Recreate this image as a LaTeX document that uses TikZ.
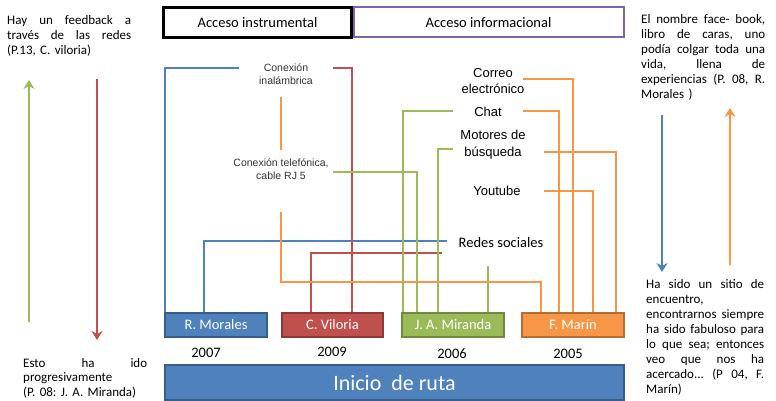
\documentclass[tikz,border=0pt]{standalone}
\usepackage{fontspec}
\setmainfont{Carlito}
\newfontfamily\arialf{Liberation Sans}
\usetikzlibrary{arrows.meta}
\definecolor{cblue}{HTML}{4F81BD}
\definecolor{cbluedk}{HTML}{385D8A}
\definecolor{cred}{HTML}{C0504D}
\definecolor{creddk}{HTML}{8C3836}
\definecolor{cgreen}{HTML}{9BBB59}
\definecolor{cgreendk}{HTML}{71893F}
\definecolor{corange}{HTML}{F79646}
\definecolor{corangedk}{HTML}{B66D31}
\definecolor{cpurple}{HTML}{8064A2}
\definecolor{cgraytxt}{HTML}{333333}
\newcommand{\jline}[2][124pt]{\leavevmode{\spaceskip=0.226em plus 1fil\relax\hbox to #1{#2}}}
\begin{document}
\begin{tikzpicture}[x=1pt,y=-1pt,
  conn/.style={line width=2.2pt},
  bigarrow/.style={line width=2.6pt,-{Stealth[length=9pt,width=11pt,inset=3pt]}},
  person/.style={draw, line width=1.6pt, minimum width=101pt, minimum height=24pt, inner sep=0pt, text=white, font=\fontsize{14.5}{16}\selectfont},
  year/.style={inner sep=0pt, font=\fontsize{14.5}{16}\selectfont},
  accbox/.style={draw, minimum height=30pt, inner sep=0pt, font=\fontsize{14.5}{16}\selectfont},
  para/.style={inner sep=0pt, anchor=base west, align=left},
  smalllab/.style={inner sep=0pt, align=center, text=cgraytxt, font=\arialf\fontsize{10.5}{13}\selectfont},
  medlab/.style={inner sep=0pt, align=center, font=\arialf\fontsize{13}{16}\selectfont}
]
\useasboundingbox (0,0) rectangle (776,401);

% top boxes
\node[accbox, line width=2.6pt, draw=black, minimum width=188pt] (ains) at (257.5,22.5) {Acceso instrumental};
\node[accbox, line width=2pt, draw=cpurple, minimum width=270pt] (ainf) at (488.5,22.5) {Acceso informacional};

% person boxes
\node[person, draw=cbluedk, fill=cblue, minimum width=102pt] (rm) at (216,325) {R. Morales};
\node[person, draw=creddk, fill=cred] (cv) at (332.5,325) {C. Viloria};
\node[person, draw=cgreendk, fill=cgreen, minimum width=102pt] (jm) at (453,325) {J. A. Miranda};
\node[person, draw=corangedk, fill=corange, minimum width=102pt] (fm) at (573,325) {F. Marín};

% years
\node[year] (y1) at (206,352.5) {2007};
\node[year] (y2) at (332,351.5) {2009};
\node[year] (y3) at (452,353.5) {2006};
\node[year] (y4) at (568,353.5) {2005};

% inicio de ruta
\node[draw=cbluedk, fill=cblue, line width=1.6pt, minimum width=459pt, minimum height=35pt, inner sep=0pt, text=white, font=\fontsize{22}{24}\selectfont] (ir) at (394.5,382.5) {Inicio\ \ de ruta};

% labels
\node[smalllab] (ci) at (286,74.5) {Conexión\\inalámbrica};
\node[smalllab] (ct) at (281,169.5) {Conexión telefónica,\\cable RJ 5};
\node[medlab] (ce) at (493,81) {Correo\\electrónico};
\node[medlab] (ch) at (488,112) {Chat};
\node[medlab, font=\arialf\fontsize{13}{17}\selectfont] (mb) at (493,144.5) {Motores de\\búsqueda};
\node[medlab] (yt) at (497,191) {Youtube};
\node[inner sep=0pt, font=\fontsize{14.5}{16}\selectfont] (rs) at (501,243) {Redes sociales};

% connector coordinates
\coordinate (b1s) at (239,68);  \coordinate (b1k) at (165,68);
\coordinate (b2s) at (447,241); \coordinate (b2k) at (204,241);
\coordinate (r1s) at (333,68);  \coordinate (r1k) at (352,68);
\coordinate (r2s) at (442,253); \coordinate (r2k) at (311,253);
\coordinate (g1s) at (453,111); \coordinate (g1k) at (403,111);
\coordinate (g2s) at (333,172); \coordinate (g2k) at (417,172);
\coordinate (g3s) at (453,149); \coordinate (g3k) at (438,149);
\coordinate (g4s) at (488,266);
\coordinate (o1s) at (523,79);  \coordinate (o1k) at (573,79);
\coordinate (o2s) at (523,111); \coordinate (o2k) at (559,111);
\coordinate (o3s) at (544,152); \coordinate (o3k) at (616,152);
\coordinate (o4s) at (544,191); \coordinate (o4k) at (593,191);
\coordinate (o5a) at (281,97);  \coordinate (o5b) at (281,150);
\coordinate (o6s) at (281,212); \coordinate (o6k) at (281,282); \coordinate (o6m) at (541,282);

% blue
\draw[conn,cblue] (b1s) -- (b1k) -- (b1k |- rm.north);
\draw[conn,cblue] (b2s) -- (b2k) -- (b2k |- rm.north);
% red
\draw[conn,cred] (r1s) -- (r1k) -- (r1k |- cv.north);
\draw[conn,cred] (r2s) -- (r2k) -- (r2k |- cv.north);
% green
\draw[conn,cgreen] (g1s) -- (g1k) -- (g1k |- jm.north);
\draw[conn,cgreen] (g2s) -- (g2k) -- (g2k |- jm.north);
\draw[conn,cgreen] (g3s) -- (g3k) -- (g3k |- jm.north);
\draw[conn,cgreen] (g4s) -- (g4s |- jm.north);
% orange
\draw[conn,corange] (o1s) -- (o1k) -- (o1k |- fm.north);
\draw[conn,corange] (o2s) -- (o2k) -- (o2k |- fm.north);
\draw[conn,corange] (o3s) -- (o3k) -- (o3k |- fm.north);
\draw[conn,corange] (o4s) -- (o4k) -- (o4k |- fm.north);
\draw[conn,corange] (o5a) -- (o5b);
\draw[conn,corange] (o6s) -- (o6k) -- (o6m) -- (o6m |- fm.north);

% side texts
\node[para, text width=124pt, font=\frenchspacing\fontsize{13}{14.6}\selectfont] (lt) at (7,25)
  {\jline{Hay un feedback a}\\\jline{través de las redes}\\(P.13, C. viloria)};
\node[para, text width=124pt, font=\frenchspacing\fontsize{13}{14.6}\selectfont] (lb) at (23,367)
  {\jline{Esto ha ido}\\progresivamente\\(P. 08: J. A. Miranda)};
\node[para, text width=124pt, font=\frenchspacing\fontsize{13}{15}\selectfont] (rt) at (641,24)
  {\jline{El nombre face- book,}\\\jline{libro de caras, uno}\\\jline{podía colgar toda una}\\\jline{vida, llena de}\\\jline{experiencias (P. 08, R.}\\Morales )};
\node[para, text width=118pt, font=\frenchspacing\fontsize{13}{15.1}\selectfont] (rb) at (646,288)
  {\jline[118pt]{Ha sido un sitio de}\\encuentro,\\\jline[118pt]{encontrarnos siempre}\\\jline[118pt]{ha sido fabuloso para}\\\jline[118pt]{lo que sea; entonces}\\\jline[118pt]{veo que nos ha}\\\jline[118pt]{acercado... (P 04, F.}\\Marín)};

% side arrows
\coordinate (ga1) at (29,322); \coordinate (ga2) at (29,80);
\coordinate (ra1) at (97,79);  \coordinate (ra2) at (97,340);
\coordinate (ba1) at (662,115); \coordinate (ba2) at (662,272);
\coordinate (oa1) at (730,265); \coordinate (oa2) at (730,108);
\draw[bigarrow,cgreen] (ga1) -- (ga2);
\draw[bigarrow,cred] (ra1) -- (ra2);
\draw[bigarrow,cblue] (ba1) -- (ba2);
\draw[bigarrow,corange] (oa1) -- (oa2);
\end{tikzpicture}
\end{document}
